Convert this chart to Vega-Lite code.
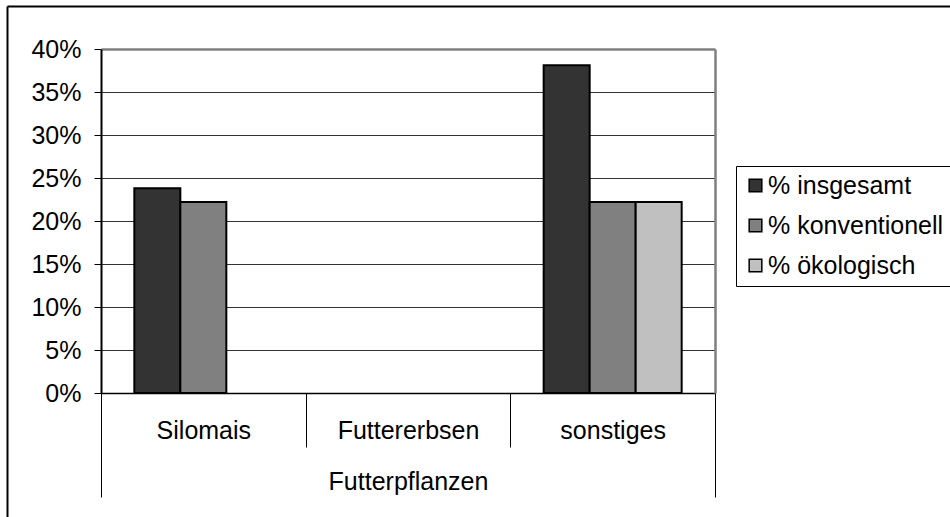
{
  "$schema": "https://vega.github.io/schema/vega-lite/v6.json",
  "width": 943,
  "height": 511,
  "autosize": {"type": "none"},
  "padding": {"left": 7, "top": 6, "right": 0, "bottom": 0},
  "background": "white",
  "config": {
    "view": {"stroke": null},
    "font": "Liberation Sans",
    "axis": {"labelFont": "Liberation Sans", "titleFont": "Liberation Sans"},
    "legend": {"labelFont": "Liberation Sans"}
  },
  "data": {
    "values": [
      {"Kultur": "Silomais", "Reihe": "% insgesamt", "Anteil": 23.8},
      {"Kultur": "Silomais", "Reihe": "% konventionell", "Anteil": 22.2},
      {"Kultur": "sonstiges", "Reihe": "% insgesamt", "Anteil": 38.1},
      {"Kultur": "sonstiges", "Reihe": "% konventionell", "Anteil": 22.2},
      {"Kultur": "sonstiges", "Reihe": "% ökologisch", "Anteil": 22.2}
    ]
  },
  "layer": [
    {
      "mark": {"type": "bar", "stroke": "black", "strokeWidth": 2},
      "encoding": {
        "x": {
          "field": "Kultur", "type": "nominal", "sort": null,
          "scale": {"domain": ["Silomais", "Futtererbsen", "sonstiges"], "range": [94, 708], "paddingInner": 0, "paddingOuter": 0},
          "axis": {
            "orient": "bottom", "offset": -124,
            "title": "Futterpflanzen", "titleFontSize": 25, "titleFontWeight": "normal", "titleColor": "black", "titlePadding": 22,
            "labelFontSize": 25, "labelColor": "black", "labelAngle": 0, "labelPadding": -28.5,
            "tickBand": "extent", "tickSize": 54, "tickColor": "black", "tickWidth": 1,
            "domainColor": "black", "domainWidth": 1.5, "grid": false
          }
        },
        "xOffset": {
          "field": "Reihe", "type": "nominal",
          "scale": {"domain": ["% insgesamt", "% konventionell", "% ökologisch"], "paddingInner": 0, "paddingOuter": 0.7246}
        },
        "y": {
          "field": "Anteil", "type": "quantitative",
          "scale": {"domain": [0, 40], "range": [387, 43], "nice": false, "zero": true},
          "axis": {
            "orient": "left", "offset": -94, "title": null,
            "values": [0, 5, 10, 15, 20, 25, 30, 35, 40],
            "labelExpr": "datum.value + '%'",
            "labelFontSize": 25, "labelColor": "black", "labelPadding": 13,
            "tickSize": 7, "tickColor": "black", "tickWidth": 1,
            "domainColor": "black", "domainWidth": 2,
            "grid": true,
            "gridColor": {"condition": {"test": "datum.value === 40", "value": "#808080"}, "value": "#333333"},
            "gridWidth": {"condition": {"test": "datum.value === 40", "value": 2.5}, "value": 1}
          }
        },
        "color": {
          "field": "Reihe", "type": "nominal",
          "scale": {"domain": ["% insgesamt", "% konventionell", "% ökologisch"], "range": ["#333333", "#808080", "#c0c0c0"]},
          "legend": {
            "orient": "none", "legendX": 729, "legendY": 160, "title": null,
            "strokeColor": "black", "fillColor": "white", "padding": 7,
            "symbolType": "square", "symbolSize": 160, "symbolStrokeColor": "black", "symbolStrokeWidth": 1.5, "symbolOpacity": 1,
            "labelFontSize": 25, "labelColor": "black", "labelOffset": 0, "labelLimit": 400, "rowPadding": 14,
            "labelExpr": "datum.label + '    '"
          }
        }
      }
    },
    {
      "mark": {"type": "point", "opacity": 0},
      "encoding": {
        "x": {
          "datum": 0, "type": "quantitative",
          "scale": {"domain": [0, 3], "range": [94, 708], "nice": false, "zero": false},
          "axis": {"orient": "bottom", "offset": -124, "values": [0, 3], "tickSize": 104, "tickColor": "black", "tickWidth": 1, "labels": false, "domain": false, "grid": false, "title": null}
        },
        "y": {
          "datum": 0, "type": "quantitative",
          "scale": {"domain": [0, 40], "range": [387, 43], "nice": false},
          "axis": {"orient": "left", "offset": -708, "domain": true, "domainColor": "#808080", "domainWidth": 2.5, "ticks": false, "labels": false, "grid": false, "title": null}
        }
      }
    },
    {
      "mark": {"type": "point", "opacity": 0},
      "encoding": {
        "x": {
          "datum": 0, "type": "quantitative",
          "scale": {"domain": [0, 1], "nice": false},
          "axis": {"orient": "top", "domain": true, "domainColor": "black", "domainWidth": 2, "ticks": false, "labels": false, "grid": false, "title": null}
        },
        "y": {
          "datum": 0, "type": "quantitative",
          "scale": {"domain": [0, 1], "nice": false},
          "axis": {"orient": "left", "domain": true, "domainColor": "black", "domainWidth": 2, "ticks": false, "labels": false, "grid": false, "title": null}
        }
      }
    }
  ],
  "resolve": {"scale": {"x": "independent", "y": "independent"}}
}
